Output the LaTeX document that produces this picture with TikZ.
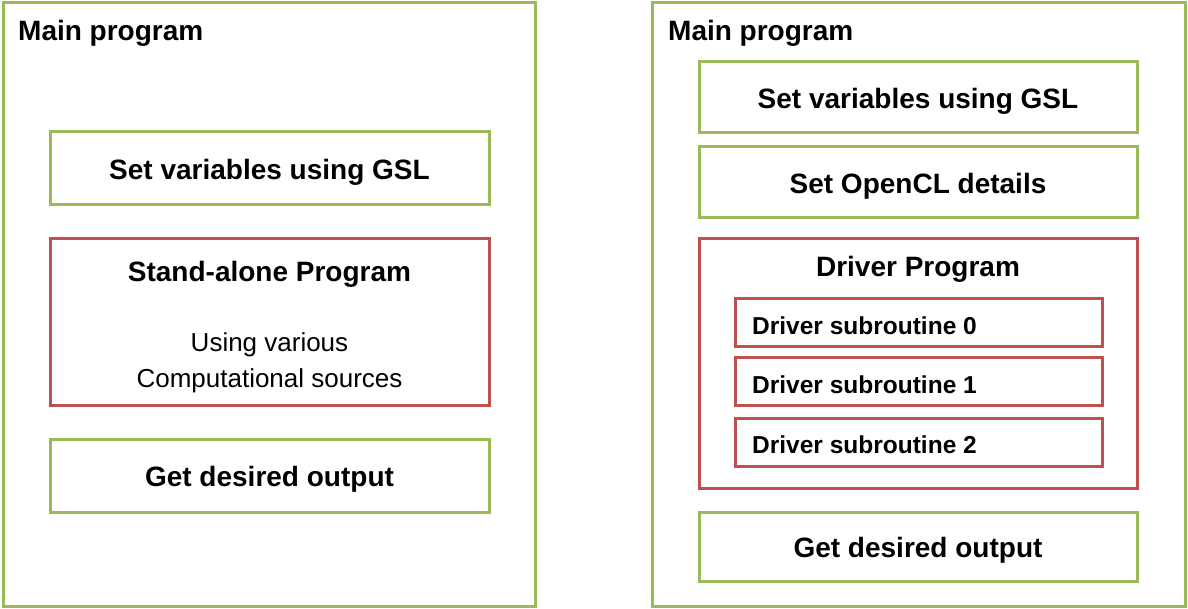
\documentclass[tikz,border=0pt]{standalone}
\usepackage{fontspec}
\setmainfont{Liberation Sans}
\definecolor{boxgreen}{HTML}{9BBB59}
\definecolor{boxred}{HTML}{C0504D}
\begin{document}
\begin{tikzpicture}[x=1pt,y=-1pt,
  gbox/.style={draw=boxgreen,line width=3pt,minimum width=#1,inner sep=0pt},
  rbox/.style={draw=boxred,line width=3pt,minimum width=#1,inner sep=0pt},
  head/.style={font=\fontsize{28}{32}\selectfont\bfseries,inner sep=0pt,yshift=-3.5pt},
  plain/.style={font=\fontsize{26}{30}\selectfont,inner sep=0pt,yshift=-3.5pt},
  sub/.style={font=\fontsize{24.5}{28}\selectfont\bfseries,anchor=west,inner sep=0pt,yshift=-3pt}
]
\useasboundingbox (0,0) rectangle (1188,609);
\fill[white] (0,0) rectangle (1188,609);
% left
\node[gbox=532pt,minimum height=603pt] (L) at (269,304.5) {};
\node[head,anchor=west] (Lt) at (18,30) {Main program};
\node[gbox=439pt,minimum height=73pt] (L1) at (269.5,168.5) {};
\node[head] (L1t) at (L1.center) {Set variables using GSL};
\node[rbox=439pt,minimum height=166pt] (L2) at (269.5,322) {};
\node[head] (L2t) at (269.5,271) {Stand-alone Program};
\node[plain] (L2a) at (269.5,341) {Using various};
\node[plain] (L2b) at (269.5,377) {Computational sources};
\node[gbox=439pt,minimum height=73pt] (L3) at (269.5,475.5) {};
\node[head] (L3t) at (L3.center) {Get desired output};
% right
\node[gbox=533pt,minimum height=603pt] (R) at (918.5,304.5) {};
\node[head,anchor=west] (Rt) at (668,30) {Main program};
\node[gbox=438pt,minimum height=71pt] (R1) at (918,97.5) {};
\node[head] (R1t) at (R1.center) {Set variables using GSL};
\node[gbox=438pt,minimum height=71pt] (R2) at (918,182.5) {};
\node[head] (R2t) at (R2.center) {Set OpenCL details};
\node[rbox=438pt,minimum height=249pt] (R3) at (918,363.5) {};
\node[head] (R3t) at (918,266) {Driver Program};
\node[rbox=367pt,minimum height=48pt] (S0) at (918.5,322.5) {};
\node[sub] (S0t) at (752,322.5) {Driver subroutine 0};
\node[rbox=367pt,minimum height=48pt] (S1) at (918.5,381.5) {};
\node[sub] (S1t) at (752,381.5) {Driver subroutine 1};
\node[rbox=367pt,minimum height=48pt] (S2) at (918.5,442) {};
\node[sub] (S2t) at (752,442) {Driver subroutine 2};
\node[gbox=438pt,minimum height=69pt] (R4) at (918,546.5) {};
\node[head] (R4t) at (R4.center) {Get desired output};
\end{tikzpicture}
\end{document}
